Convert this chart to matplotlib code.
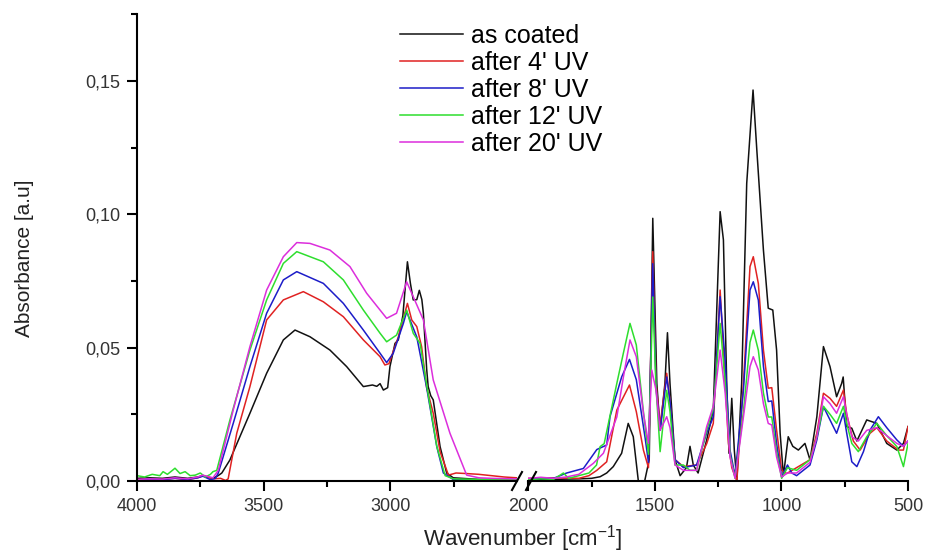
import numpy as np
import matplotlib
matplotlib.use("Agg")
import matplotlib.pyplot as plt
from matplotlib.lines import Line2D
from matplotlib.ticker import FixedLocator, FixedFormatter

plt.rcParams['font.family'] = ['Liberation Sans', 'DejaVu Sans']
plt.rcParams['mathtext.fontset'] = 'custom'
plt.rcParams['mathtext.rm'] = 'Liberation Sans'
plt.rcParams['mathtext.it'] = 'Liberation Sans:italic'

# ---------------------------------------------------------------------------
# Data
# ---------------------------------------------------------------------------
labels = ["as coated", "after 4' UV", "after 8' UV", "after 12' UV", "after 20' UV"]
colors = ['#111111', '#e02222', '#1c1cc8', '#2ede2e', '#dc2edc']

# high wavenumber region 4000-2500
hi_black_x = [4000, 3950, 3900, 3850, 3800, 3760, 3740, 3700, 3680, 3665, 3633, 3554, 3488,
              3422, 3376, 3317, 3238, 3172, 3106, 3070, 3053, 3040, 3027, 3010, 3001, 2981,
              2968, 2950, 2932, 2920, 2909, 2895, 2885, 2875, 2869, 2856, 2850, 2840, 2830,
              2803, 2777, 2751, 2650, 2500]
hi_black_y = [0.001, 0.0012, 0.001, 0.0015, 0.001, 0.0015, 0.002, 0.001, 0.002, 0.003, 0.0079,
              0.0254, 0.0404, 0.0529, 0.0566, 0.0541, 0.0491, 0.0429, 0.0354, 0.036, 0.0355,
              0.0365, 0.0341, 0.035, 0.0429, 0.0516, 0.0529, 0.062, 0.0822, 0.074, 0.0679,
              0.068, 0.0715, 0.068, 0.0629, 0.042, 0.0354, 0.032, 0.0304, 0.0129, 0.003,
              0.0012, 0.0006, 0.0005]

hi_red_x = [4000, 3950, 3900, 3850, 3800, 3760, 3740, 3700, 3670, 3650, 3640, 3606, 3554,
            3488, 3422, 3343, 3264, 3185, 3106, 3040, 3021, 3005, 2968, 2932, 2915, 2895,
            2876, 2856, 2830, 2803, 2770, 2740, 2700, 2650, 2600, 2550, 2500]
hi_red_y = [0.0005, 0.0008, 0.0006, 0.001, 0.0005, 0.0012, 0.002, 0.0008, 0.001, 0.0002, 0.0008,
            0.0179, 0.0354, 0.0604, 0.0679, 0.071, 0.0672, 0.0616, 0.0529, 0.0466, 0.0435,
            0.044, 0.054, 0.0666, 0.0604, 0.0579, 0.0504, 0.035, 0.0254, 0.011, 0.0022,
            0.003, 0.0028, 0.0025, 0.002, 0.0015, 0.0012]

hi_blue_x = [4000, 3950, 3900, 3850, 3800, 3760, 3740, 3710, 3690, 3679, 3620, 3554, 3488,
             3422, 3369, 3264, 3185, 3106, 3040, 3014, 2988, 2948, 2935, 2895, 2856, 2816,
             2790, 2750, 2650, 2500]
hi_blue_y = [0.0004, 0.0008, 0.0005, 0.001, 0.0006, 0.0012, 0.0018, 0.0005, 0.001, 0.003,
             0.0216, 0.0429, 0.0629, 0.0754, 0.0785, 0.0741, 0.0666, 0.0566, 0.0479, 0.0444,
             0.0479, 0.0591, 0.0635, 0.054, 0.035, 0.0129, 0.003, 0.0005, 0.0003, 0.0003]

hi_green_x = [4000, 3970, 3940, 3910, 3897, 3880, 3860, 3850, 3830, 3810, 3790, 3770, 3750,
              3730, 3710, 3700, 3685, 3633, 3554, 3488, 3422, 3369, 3264, 3185, 3106, 3040,
              3014, 2975, 2935, 2909, 2882, 2856, 2816, 2783, 2750, 2650, 2500]
hi_green_y = [0.002, 0.0015, 0.0025, 0.002, 0.0035, 0.0025, 0.004, 0.0048, 0.0028, 0.0035,
              0.002, 0.0022, 0.003, 0.0015, 0.0025, 0.0035, 0.004, 0.0229, 0.0491, 0.0679,
              0.0816, 0.086, 0.0822, 0.0754, 0.0641, 0.0554, 0.0522, 0.0547, 0.0641, 0.0554,
              0.0516, 0.036, 0.013, 0.002, 0.0008, 0.0006, 0.0005]

hi_mag_x = [4000, 3950, 3900, 3850, 3800, 3760, 3740, 3700, 3679, 3620, 3554, 3488, 3422,
            3369, 3317, 3238, 3159, 3093, 3014, 2975, 2935, 2909, 2869, 2830, 2764, 2698,
            2650, 2600, 2500]
hi_mag_y = [0.0006, 0.0008, 0.0007, 0.0012, 0.0008, 0.0015, 0.0022, 0.0012, 0.004, 0.0266,
            0.0504, 0.0716, 0.0841, 0.0894, 0.0891, 0.0866, 0.0804, 0.0704, 0.061, 0.0629,
            0.0747, 0.0691, 0.0604, 0.0379, 0.0179, 0.0022, 0.0012, 0.001, 0.0008]

# fingerprint region 2000-500
lo_black_x = [2000, 1900, 1800, 1750, 1716, 1690, 1664, 1631, 1605, 1585, 1565, 1540, 1522,
              1508, 1492, 1479, 1460, 1450, 1440, 1420, 1400, 1375, 1361, 1348, 1329, 1295,
              1269, 1242, 1229, 1216, 1207, 1196, 1186, 1176, 1157, 1137, 1112, 1097, 1071,
              1052, 1034, 1019, 1005, 992, 973, 955, 933, 907, 887, 860, 834, 808, 782, 762,
              756, 742, 722, 702, 663, 623, 584, 544, 518, 500]
lo_black_y = [0.0005, 0.0006, 0.0008, 0.001, 0.0016, 0.003, 0.0054, 0.0104, 0.0216, 0.0166, 0.0,
              0.0, 0.008, 0.0985, 0.0366, 0.019, 0.0366, 0.0556, 0.0366, 0.0079, 0.002,
              0.005, 0.013, 0.006, 0.003, 0.0154, 0.0266, 0.101, 0.0904, 0.0366, 0.0104,
              0.031, 0.0116, 0.0, 0.0366, 0.1116, 0.1466, 0.124, 0.0866, 0.0648, 0.0641,
              0.0491, 0.0179, 0.002, 0.0166, 0.013, 0.0116, 0.0141, 0.0079, 0.0241, 0.0504,
              0.0429, 0.0316, 0.0366, 0.039, 0.0204, 0.0198, 0.015, 0.0229, 0.0216, 0.0141,
              0.0116, 0.0141, 0.0204]

lo_red_x = [2000, 1900, 1800, 1760, 1729, 1690, 1650, 1600, 1573, 1545, 1525, 1508, 1495,
            1479, 1453, 1440, 1420, 1387, 1335, 1295, 1269, 1242, 1229, 1209, 1196, 1176,
            1150, 1124, 1111, 1091, 1071, 1052, 1038, 1019, 999, 979, 940, 887, 860, 834,
            808, 782, 755, 742, 716, 689, 650, 623, 584, 538, 518, 500]
lo_red_y = [0.001, 0.0012, 0.001, 0.002, 0.004, 0.0072, 0.0266, 0.036, 0.026, 0.0116, 0.005,
            0.086, 0.0366, 0.021, 0.0404, 0.03, 0.008, 0.0054, 0.006, 0.014, 0.0216, 0.0716,
            0.0491, 0.0141, 0.005, 0.0, 0.0366, 0.0804, 0.0841, 0.074, 0.0491, 0.0348, 0.035,
            0.0191, 0.004, 0.0028, 0.005, 0.008, 0.018, 0.0329, 0.031, 0.028, 0.0341, 0.025,
            0.015, 0.0116, 0.0179, 0.02, 0.015, 0.0116, 0.0116, 0.0204]

lo_blue_x = [2000, 1900, 1848, 1782, 1729, 1690, 1677, 1631, 1600, 1573, 1538, 1525, 1508,
             1495, 1479, 1453, 1440, 1420, 1387, 1335, 1295, 1269, 1242, 1222, 1203, 1183,
             1150, 1124, 1111, 1091, 1071, 1052, 1038, 1019, 999, 976, 959, 940, 887, 860,
             834, 808, 782, 755, 742, 722, 702, 676, 650, 617, 584, 544, 518, 500]
lo_blue_y = [0.0008, 0.001, 0.003, 0.0047, 0.0118, 0.0135, 0.0241, 0.039, 0.0456, 0.038,
             0.016, 0.007, 0.0815, 0.035, 0.019, 0.039, 0.03, 0.008, 0.005, 0.006, 0.018,
             0.024, 0.0691, 0.045, 0.0116, 0.002, 0.034, 0.0716, 0.0747, 0.0678, 0.043,
             0.0298, 0.03, 0.0141, 0.0015, 0.006, 0.003, 0.002, 0.006, 0.0154, 0.0279,
             0.0229, 0.0179, 0.0254, 0.0179, 0.0072, 0.0054, 0.011, 0.0191, 0.0241, 0.02,
             0.0154, 0.013, 0.015]

lo_green_x = [2000, 1950, 1900, 1861, 1840, 1800, 1760, 1730, 1716, 1700, 1650, 1624, 1598,
              1573, 1545, 1525, 1508, 1495, 1479, 1453, 1440, 1420, 1387, 1361, 1335, 1295,
              1269, 1242, 1222, 1203, 1183, 1150, 1124, 1111, 1091, 1071, 1052, 1038, 1019,
              999, 976, 940, 887, 860, 834, 808, 782, 755, 742, 722, 696, 663, 623, 584,
              544, 518, 500]
lo_green_y = [0.0005, 0.0008, 0.0006, 0.003, 0.001, 0.002, 0.003, 0.006, 0.0129, 0.014,
              0.0366, 0.048, 0.0591, 0.051, 0.026, 0.01, 0.069, 0.035, 0.011, 0.034, 0.026,
              0.006, 0.006, 0.004, 0.004, 0.0191, 0.027, 0.0591, 0.037, 0.01, 0.001, 0.026,
              0.052, 0.0566, 0.049, 0.033, 0.024, 0.024, 0.011, 0.001, 0.005, 0.004, 0.008,
              0.0166, 0.028, 0.025, 0.0216, 0.028, 0.0216, 0.0141, 0.011, 0.0166, 0.0216,
              0.017, 0.0129, 0.0054, 0.014]

lo_mag_x = [2000, 1950, 1900, 1850, 1800, 1743, 1703, 1650, 1624, 1598, 1573, 1545, 1525,
            1512, 1495, 1479, 1453, 1440, 1420, 1387, 1335, 1295, 1269, 1242, 1222, 1203,
            1183, 1150, 1124, 1111, 1091, 1071, 1052, 1038, 1019, 999, 976, 940, 887, 860,
            834, 808, 782, 755, 742, 722, 696, 663, 623, 584, 544, 518, 500]
lo_mag_y = [0.001, 0.0014, 0.001, 0.0015, 0.0025, 0.0066, 0.0104, 0.024, 0.039, 0.0529,
            0.0466, 0.0254, 0.0141, 0.0416, 0.034, 0.019, 0.0241, 0.02, 0.006, 0.004, 0.004,
            0.0204, 0.028, 0.0491, 0.033, 0.009, 0.001, 0.024, 0.0429, 0.0466, 0.0416,
            0.029, 0.0216, 0.021, 0.009, 0.0015, 0.003, 0.003, 0.007, 0.0166, 0.0316,
            0.029, 0.0254, 0.0316, 0.025, 0.0166, 0.015, 0.019, 0.02, 0.017, 0.0141, 0.013,
            0.015]

hi_series = [(hi_black_x, hi_black_y), (hi_red_x, hi_red_y), (hi_blue_x, hi_blue_y),
             (hi_green_x, hi_green_y), (hi_mag_x, hi_mag_y)]
lo_series = [(lo_black_x, lo_black_y), (lo_red_x, lo_red_y), (lo_blue_x, lo_blue_y),
             (lo_green_x, lo_green_y), (lo_mag_x, lo_mag_y)]

y_ticks = [0.0, 0.05, 0.10, 0.15]
y_tick_labels = ['0,00', '0,05', '0,10', '0,15']
hi_ticks = [4000, 3500, 3000]
lo_ticks = [2000, 1500, 1000, 500]

# ---------------------------------------------------------------------------
# Figure: broken x axis made of two panels
# ---------------------------------------------------------------------------
W, H = 926, 553
fig = plt.figure(figsize=(W / 100, H / 100), dpi=100)
bottom = (H - 481) / H
height = 466.7 / H
ax1 = fig.add_axes([137 / W, bottom, 379.8 / W, height])
ax2 = fig.add_axes([528.2 / W, bottom, 379.8 / W, height], sharey=ax1)

for (x, y), c, lab in zip(hi_series, colors, labels):
    ax1.plot(x, y, color=c, lw=1.1, label=lab)
for (x, y), c in zip(lo_series, colors):
    ax2.plot(x, y, color=c, lw=1.1)

ax1.set_xlim(4000, 2500)
ax2.set_xlim(2000, 500)
ax1.set_ylim(0, 0.175)

for ax in (ax1, ax2):
    ax.spines['top'].set_visible(False)
    ax.spines['right'].set_visible(False)
    ax.spines['bottom'].set_linewidth(1.5)
    ax.spines['left'].set_linewidth(1.5)
    ax.tick_params(which='major', direction='out', length=7, width=1.5, pad=5,
                   labelsize=13, labelcolor='#333333')
    ax.tick_params(which='minor', direction='out', length=4, width=1.5)
    ax.patch.set_alpha(0)

ax2.spines['left'].set_visible(False)
ax2.tick_params(axis='y', which='both', left=False, labelleft=False)

ax1.xaxis.set_major_locator(FixedLocator(hi_ticks))
ax1.xaxis.set_minor_locator(FixedLocator([3750, 3250, 2750]))
ax2.xaxis.set_major_locator(FixedLocator(lo_ticks))
ax2.xaxis.set_minor_locator(FixedLocator([1750, 1250, 750]))
ax1.yaxis.set_major_locator(FixedLocator(y_ticks))
ax1.yaxis.set_major_formatter(FixedFormatter(y_tick_labels))
ax1.yaxis.set_minor_locator(FixedLocator([0.025, 0.075, 0.125, 0.175]))

# break marks
for x0 in (512, 526):
    fig.add_artist(Line2D([x0 / W, (x0 + 10) / W], [(H - 490) / H, (H - 472) / H],
                          color='black', lw=1.5, transform=fig.transFigure))

fig.text(25 / W, 1 - 258 / H, 'Absorbance [a.u]', rotation=90, ha='center', va='center',
         fontsize=15, color='#222222')
fig.text(523 / W, (H - 546) / H, 'Wavenumber [cm$^{-1}$]', ha='center', va='baseline',
         fontsize=16, color='#222222')

fig.legend(loc='upper left', bbox_to_anchor=(400 / W, 1 - 24 / H), frameon=False,
           fontsize=18, handlelength=2.5, handletextpad=0.35, labelspacing=0.12,
           borderpad=0, borderaxespad=0)

fig.savefig('out.png', dpi=100, facecolor='white')
